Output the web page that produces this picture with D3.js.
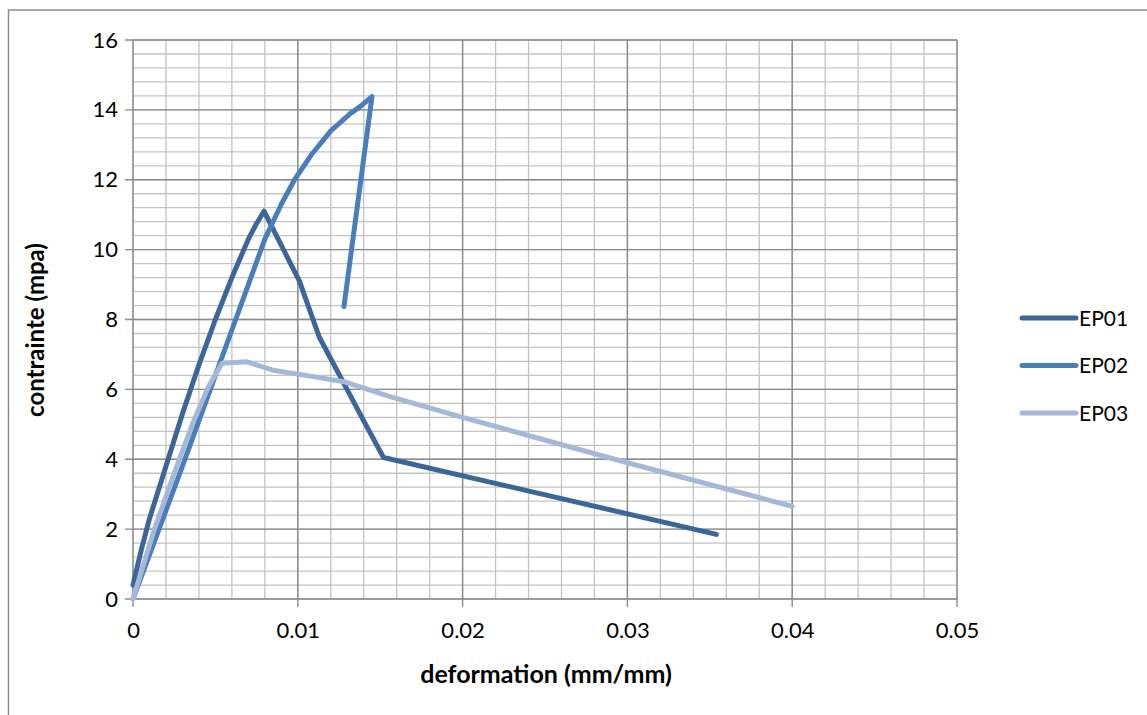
<!DOCTYPE html>
<html>
<head>
<meta charset="utf-8">
<script src="https://cdn.jsdelivr.net/npm/d3@7"></script>
<style>
  body { margin: 0; background: #fff; }
  svg { display: block; font-family: Lato, "Open Sans", sans-serif; }
</style>
</head>
<body>
<svg id="chart" width="1147" height="715"></svg>
<script>
// values
const seriesNames = ["EP01", "EP02", "EP03"];
const seriesColors = ["#3c6699", "#4a7ebb", "#a5b8d7"];

const ep01 = [
  [0, 0.4], [0.0005, 1.4], [0.001, 2.3], [0.002, 3.8], [0.003, 5.3],
  [0.004, 6.7], [0.005, 8.0], [0.006, 9.2], [0.007, 10.3], [0.0075, 10.75],
  [0.00795, 11.1], [0.0101, 9.1], [0.0113, 7.5],
  [0.0140, 5.1], [0.0152, 4.05], [0.0354, 1.85]
];
const ep02 = [
  [0, 0], [0.0015, 1.9], [0.003, 3.8], [0.005, 6.4], [0.006, 7.7],
  [0.007, 9.0], [0.008, 10.3], [0.009, 11.3], [0.0098, 12.0],
  [0.0108, 12.7], [0.012, 13.4], [0.0132, 13.9], [0.0138, 14.1],
  [0.0145, 14.38], [0.0128, 8.37]
];
const ep03 = [
  [0, 0], [0.0013, 2.0], [0.0025, 3.6], [0.0036, 5.0], [0.0046, 6.1],
  [0.0054, 6.75], [0.0069, 6.79], [0.0085, 6.55], [0.0105, 6.4],
  [0.0128, 6.22], [0.0156, 5.79], [0.02, 5.2], [0.03, 3.9], [0.04, 2.65]
];
const seriesData = [ep01, ep02, ep03];

const xTicks = [0, 0.01, 0.02, 0.03, 0.04, 0.05];
const yTicks = [0, 2, 4, 6, 8, 10, 12, 14, 16];

const svg = d3.select("#chart");

// chart frame
svg.append("rect")
  .attr("x", 8.5).attr("y", 10)
  .attr("width", 1150).attr("height", 720)
  .attr("fill", "none")
  .attr("stroke", "#8c8c8c")
  .attr("stroke-width", 1.5);

const plotLeft = 133, plotRight = 957, plotTop = 40, plotBottom = 599;

const x = d3.scaleLinear().domain([0, 0.05]).range([plotLeft, plotRight]);
const y = d3.scaleLinear().domain([0, 16]).range([plotBottom, plotTop]);

// minor grid
const grid = svg.append("g");
grid.selectAll(".vminor")
  .data(d3.range(0, 26).map(function (i) { return i * 0.002; }))
  .enter().append("line")
  .attr("x1", function (d) { return x(d); })
  .attr("x2", function (d) { return x(d); })
  .attr("y1", plotTop).attr("y2", plotBottom)
  .attr("stroke", "#c3c3c3").attr("stroke-width", 1.3);

grid.selectAll(".hminor")
  .data(d3.range(0, 41).map(function (i) { return i * 0.4; }))
  .enter().append("line")
  .attr("y1", function (d) { return y(d); })
  .attr("y2", function (d) { return y(d); })
  .attr("x1", plotLeft).attr("x2", plotRight)
  .attr("stroke", "#c3c3c3").attr("stroke-width", 1.3);

// major grid
grid.selectAll(".vmajor")
  .data(xTicks)
  .enter().append("line")
  .attr("x1", function (d) { return x(d); })
  .attr("x2", function (d) { return x(d); })
  .attr("y1", plotTop).attr("y2", plotBottom + 8)
  .attr("stroke", "#8a8a8a").attr("stroke-width", 1.4);

grid.selectAll(".hmajor")
  .data(yTicks)
  .enter().append("line")
  .attr("y1", function (d) { return y(d); })
  .attr("y2", function (d) { return y(d); })
  .attr("x1", plotLeft - 8).attr("x2", plotRight)
  .attr("stroke", "#8a8a8a").attr("stroke-width", 1.4);

// axes (labels only, lines drawn above)
const xAxis = svg.append("g")
  .attr("transform", "translate(0," + plotBottom + ")")
  .call(d3.axisBottom(x).tickValues(xTicks).tickSize(0).tickPadding(23)
    .tickFormat(function (d) { return d === 0 ? "0" : String(+d.toFixed(2)); }));
xAxis.select(".domain").remove();
xAxis.selectAll("text").attr("font-size", 22).attr("fill", "#000")
  .attr("font-family", "Lato, 'Open Sans', sans-serif");

const yAxis = svg.append("g")
  .attr("transform", "translate(" + plotLeft + ",0)")
  .call(d3.axisLeft(y).tickValues(yTicks).tickSize(0).tickPadding(15)
    .tickFormat(d3.format("d")));
yAxis.select(".domain").remove();
yAxis.selectAll("text").attr("font-size", 22).attr("fill", "#000")
  .attr("font-family", "Lato, 'Open Sans', sans-serif");

// axis titles
svg.append("text")
  .attr("x", 546).attr("y", 683)
  .attr("text-anchor", "middle")
  .attr("font-size", 25).attr("font-weight", "bold")
  .text("deformation (mm/mm)");

svg.append("text")
  .attr("transform", "translate(44,330) rotate(-90)")
  .attr("text-anchor", "middle")
  .attr("font-size", 24).attr("font-weight", "bold")
  .text("contrainte (mpa)");

// series
const line = d3.line()
  .x(function (d) { return x(d[0]); })
  .y(function (d) { return y(d[1]); });

svg.append("g").selectAll("path")
  .data(seriesData)
  .enter().append("path")
  .attr("d", line)
  .attr("fill", "none")
  .attr("stroke", function (d, i) { return seriesColors[i]; })
  .attr("stroke-width", 5)
  .attr("stroke-linejoin", "round")
  .attr("stroke-linecap", "round");

// legend
const legend = svg.append("g");
const legendRows = legend.selectAll("g")
  .data(seriesNames)
  .enter().append("g")
  .attr("transform", function (d, i) { return "translate(1022," + (318 + i * 47.5) + ")"; });

legendRows.append("line")
  .attr("x1", 0).attr("x2", 54)
  .attr("stroke", function (d, i) { return seriesColors[i]; })
  .attr("stroke-width", 5)
  .attr("stroke-linecap", "round");

legendRows.append("text")
  .attr("x", 57).attr("y", 7.5)
  .attr("font-size", 21)
  .text(function (d) { return d; });
</script>
</body>
</html>
